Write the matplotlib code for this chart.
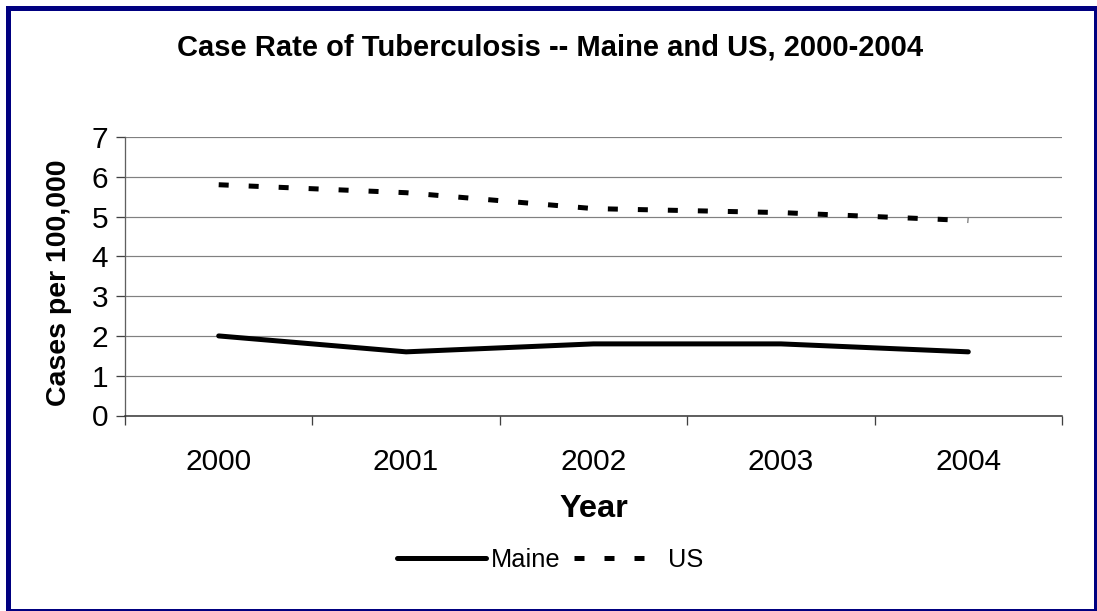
import matplotlib
matplotlib.use("Agg")
import matplotlib.pyplot as plt
from matplotlib.patches import Rectangle
from matplotlib.lines import Line2D

plt.rcParams['font.family'] = ['Liberation Sans', 'DejaVu Sans']

years = ['2000', '2001', '2002', '2003', '2004']
maine = [2.0, 1.6, 1.8, 1.8, 1.6]
us = [5.8, 5.6, 5.2, 5.1, 4.9]
y_ticks = [0, 1, 2, 3, 4, 5, 6, 7]

DPI = 100
fig = plt.figure(figsize=(10.97, 6.11), dpi=DPI)
W, H = 1097, 611

def px(v):
    return v * 72.0 / DPI

# navy frame around the whole chart
fig.patches.append(Rectangle((7.5 / W, 0.5 / H), 1088 / W, 603 / H,
                             transform=fig.transFigure, fill=False,
                             edgecolor='#000080', linewidth=px(5), zorder=10))

ax = fig.add_axes([125 / W, (H - 415.5) / H, 937 / W, 278.5 / H])

x = list(range(len(years)))
ax.plot(x, maine, color='black', linewidth=px(5), solid_capstyle='round',
        label='Maine', zorder=3)
ax.plot(x, us, color='black', linewidth=px(5), dashes=(2.0, 4.0),
        dash_capstyle='butt', label='US', zorder=3)

ax.set_xlim(-0.5, len(years) - 0.5)
ax.set_ylim(0, 7)
ax.set_yticks(y_ticks)
ax.set_yticklabels([str(t) for t in y_ticks])
ax.yaxis.grid(True, color='#808080', linewidth=px(1.2))
ax.set_axisbelow(True)

# category boundaries carry the tick marks, labels sit between them
ax.set_xticks([i - 0.5 for i in range(len(years) + 1)])
ax.set_xticklabels([])
ax.set_xticks(x, minor=True)
ax.set_xticklabels(years, minor=True)
ax.tick_params(axis='x', which='major', length=px(9), width=px(1.3),
               color='#404040', direction='out')
ax.tick_params(axis='x', which='minor', length=0, pad=px(32), labelsize=21.5)
ax.tick_params(axis='y', length=px(9), width=px(1.3), color='#404040',
               pad=px(8), labelsize=21.5)

for side in ('top', 'right'):
    ax.spines[side].set_visible(False)
ax.spines['left'].set_color('#606060')
ax.spines['bottom'].set_color('#303030')
ax.spines['left'].set_linewidth(px(1.3))
ax.spines['bottom'].set_linewidth(px(1.5))

fig.text(550 / W, 1 - 47 / H, 'Case Rate of Tuberculosis -- Maine and US, 2000-2004',
         ha='center', va='center', fontsize=21, fontweight='bold')
fig.text(594 / W, 1 - 509 / H, 'Year', ha='center', va='center',
         fontsize=23.4, fontweight='bold')
fig.text(59 / W, 1 - 283 / H, 'Cases per 100,000', ha='center', va='center',
         rotation=90, fontsize=20.5, fontweight='bold')

handles = [Line2D([], [], color='black', linewidth=px(5), solid_capstyle='round'),
           Line2D([], [], color='black', linewidth=px(5), dashes=(2.0, 4.0),
                  dash_capstyle='butt')]
fig.legend(handles, ['Maine', 'US'], loc='center', bbox_to_anchor=(550 / W, 1 - 560 / H),
           ncol=2, frameon=False, fontsize=18.3, handlelength=3.5, handletextpad=0.2,
           columnspacing=0.5, borderpad=0)

fig.savefig('out.png', dpi=DPI)
